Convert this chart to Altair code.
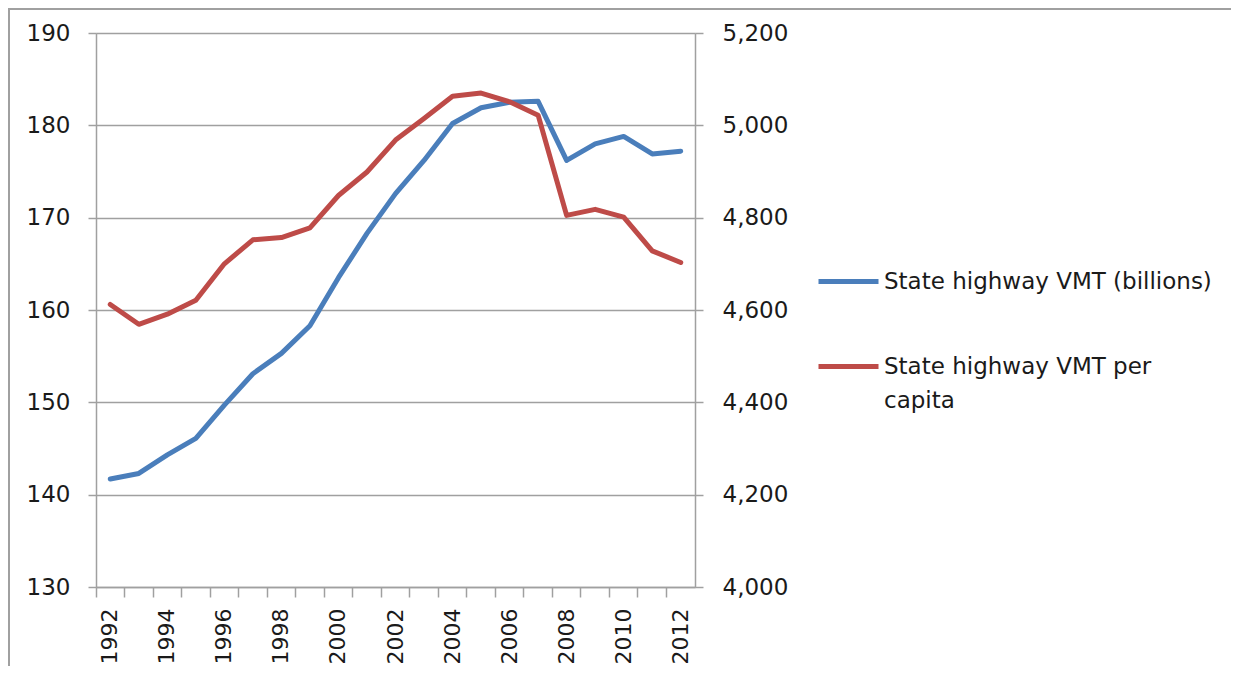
import altair as alt
import pandas as pd

years = list(range(1992, 2013))
vmt_billions = [141.7, 142.3, 144.3, 146.1, 149.7, 153.1, 155.3, 158.3, 163.5, 168.3, 172.6,
                176.2, 180.2, 181.9, 182.5, 182.6, 176.2, 178.0, 178.8, 176.9, 177.2]
vmt_per_capita = [4612, 4569, 4591, 4621, 4700, 4752, 4757, 4778, 4848, 4899, 4968,
                  5015, 5063, 5070, 5051, 5022, 4805, 4818, 4801, 4728, 4703]
series_names = ["State highway VMT (billions)", "State highway VMT per capita"]
series_colors = ["#4A7EBB", "#BE4B48"]
left_ticks = [130, 140, 150, 160, 170, 180, 190]
right_ticks = [4000, 4200, 4400, 4600, 4800, 5000, 5200]

df1 = pd.DataFrame({"year": years, "value": vmt_billions, "series": series_names[0]})
df2 = pd.DataFrame({"year": years, "value": vmt_per_capita, "series": series_names[1]})

FONT = "DejaVu Sans"
GRAY = "#A0A0A0"
TXT = "#1a1a1a"

x_enc = alt.X(
    "year:O",
    bandPosition=0.5,
    scale=alt.Scale(type="band", paddingInner=0, paddingOuter=0),
    axis=alt.Axis(
        title=None, bandPosition=0, labelAngle=-90, labelFontSize=22, labelFont=FONT,
        labelColor=TXT, labelPadding=11, tickSize=10, tickColor=GRAY, tickWidth=1.5,
        domainColor=GRAY, domainWidth=1.5, grid=False,
        labelExpr="datum.value % 2 == 0 ? datum.label : ''",
    ),
)

legend = alt.Legend(
    title=None, orient="none", legendX=720, legendY=216, symbolType="stroke",
    symbolSize=3600, symbolStrokeWidth=5, labelFontSize=23, labelFont=FONT,
    labelColor=TXT, labelOffset=3, rowPadding=40, labelLimit=500,
    labelExpr="datum.label == 'State highway VMT per capita' ? ['State highway VMT per', 'capita'] : datum.label",
)
color_enc = lambda: alt.Color(
    "series:N",
    scale=alt.Scale(domain=series_names, range=series_colors),
    legend=legend,
)

line1 = alt.Chart(df1).mark_line(strokeWidth=5, strokeCap="round", strokeJoin="round").encode(
    x=x_enc,
    y=alt.Y(
        "value:Q",
        scale=alt.Scale(domain=[130, 190], nice=False, zero=False),
        axis=alt.Axis(
            title=None, values=left_ticks, grid=True, gridColor=GRAY, gridWidth=1.5,
            tickSize=8, tickColor=GRAY, tickWidth=1.5, domainColor=GRAY, domainWidth=1.5,
            labelFontSize=23, labelFont=FONT, labelColor=TXT, labelPadding=18,
        ),
    ),
    color=color_enc(),
)

line2 = alt.Chart(df2).mark_line(strokeWidth=5, strokeCap="round", strokeJoin="round").encode(
    x=x_enc,
    y=alt.Y(
        "value:Q",
        scale=alt.Scale(domain=[4000, 5200], nice=False, zero=False),
        axis=alt.Axis(
            title=None, orient="right", values=right_ticks, grid=False, format=",.0f",
            tickSize=8, tickColor=GRAY, tickWidth=1.5, domainColor=GRAY, domainWidth=1.5,
            labelFontSize=23, labelFont=FONT, labelColor=TXT, labelPadding=19,
        ),
    ),
    color=color_enc(),
)

border = alt.Chart(pd.DataFrame({"k": [0]})).mark_rule(color=GRAY, strokeWidth=2).encode(
    x=alt.value(-87), y=alt.value(-25), y2=alt.value(700)
)
border_top = alt.Chart(pd.DataFrame({"k": [0]})).mark_rule(color=GRAY, strokeWidth=2).encode(
    x=alt.value(-87), x2=alt.value(1200), y=alt.value(-24)
)

chart = (
    alt.layer(line1, line2, border, border_top)
    .resolve_scale(y="independent")
    .properties(
        width=599, height=554,
        autosize=alt.AutoSizeParams(type="none"),
        padding={"left": 88, "top": 25, "right": 536, "bottom": 79},
    )
    .configure_view(stroke=None)
    .configure(background="white", style={"guide-label": {"lineHeight": 34}})
)

chart.save("out.html", embed_options={"renderer": "svg", "actions": False})
